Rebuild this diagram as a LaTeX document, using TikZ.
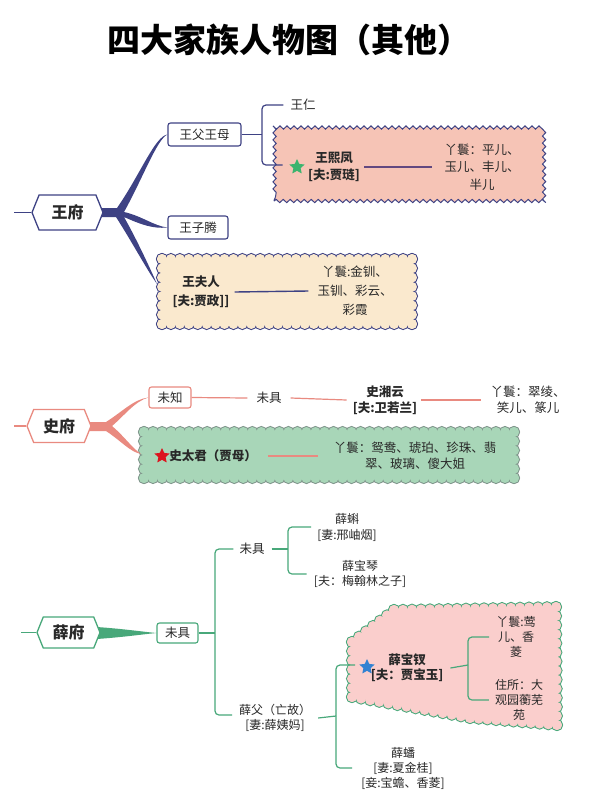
\documentclass[tikz,border=0pt]{standalone}
\usepackage{fontspec}
\setmainfont{Noto Sans CJK SC}
\usetikzlibrary{calc,shapes.geometric,shapes.symbols,decorations.pathmorphing}
\definecolor{wangc}{RGB}{62,66,132}
\definecolor{shic}{RGB}{233,138,128}
\definecolor{xuec}{RGB}{72,168,122}
\definecolor{xifengc}{RGB}{246,196,182}
\definecolor{furenc}{RGB}{250,233,206}
\definecolor{taijunc}{RGB}{168,214,184}
\definecolor{taijund}{RGB}{128,150,140}
\definecolor{baochaic}{RGB}{250,206,204}
\definecolor{maidc}{RGB}{98,72,128}
\definecolor{txtc}{RGB}{40,40,40}
\definecolor{stargreen}{RGB}{60,180,110}
\definecolor{starred}{RGB}{220,20,30}
\definecolor{starblue}{RGB}{50,130,210}
% scalloped border: a row of small circles along each edge A/B/n
\newcommand\scallops[2]{%
  \foreach \pa/\pb/\pn in {#1} {%
    \foreach \k in {0,...,\pn} {%
      \pgfmathsetmacro\myt{\k/\pn}
      \path[#2] ($(\pa)!\myt!(\pb)$) circle (5pt);}}}
\newcommand\cloudshape[4]{% edges, corner path, border colour, fill colour
  \scallops{#1}{draw=#3,line width=2pt,fill=#4}
  \fill[#4] #2;
  \scallops{#1}{fill=#4}}
\begin{document}
\begin{tikzpicture}[x=1pt,y=-1pt,font=\fontsize{12.5}{17.5}\selectfont,text=txtc,
  hexnode/.style={shape=signal,signal to=west and east,signal pointer angle=136,
    draw=#1,fill=white,line width=1.3pt,inner sep=0pt,font=\bfseries\fontsize{16}{18}\selectfont},
  namebox/.style={draw=#1,fill=white,rounded corners=2.5pt,line width=1.1pt,inner sep=0pt},
  plain/.style={align=center,inner sep=1pt},
  heavy/.style={plain,font=\bfseries\fontsize{12.5}{17}\selectfont},
  link/.style={draw=#1,line width=1.2pt,rounded corners=4pt},
  wavebox/.style={decorate,decoration={snake,segment length=7pt,amplitude=1.6pt},line width=1pt,inner sep=0pt},
  starsign/.style={star,star points=5,star point ratio=2.1,fill=#1,inner sep=0pt,minimum size=16pt}]
\useasboundingbox[fill=white] (0,0) rectangle (589,796);
\node[font=\bfseries\fontsize{33}{36}\selectfont,text=black] (title) at (289,40) {四大家族人物图（其他）};

% ---- 王府 ----
\node[namebox=wangc,minimum width=73pt,minimum height=23pt] (wfm) at (204.5,134.5) {王父王母};
\node[namebox=wangc,minimum width=60pt,minimum height=23pt] (wzt) at (198,227.5) {王子腾};
\node[wavebox,draw=wangc,fill=xifengc,minimum width=270pt,minimum height=72pt] (wxfbox) at (409,165) {};
\coordinate (fr1) at (162,259); \coordinate (fr2) at (412,259);
\coordinate (fr3) at (412,324); \coordinate (fr4) at (162,324);
\cloudshape{fr1/fr2/28,fr2/fr3/7,fr3/fr4/28,fr4/fr1/7}{(fr1) rectangle (fr3)}{wangc}{furenc}
\coordinate (wfrin) at (157,284);
\fill[wangc] (98,208) -- (117,208) .. controls (140,175) and (155,136) .. (wfm.west)
  .. controls (157,139) and (142,180) .. (124,212)
  .. controls (142,216) and (154,226) .. (wzt.west)
  .. controls (152,229) and (140,224) .. (124,217)
  .. controls (136,238) and (150,268) .. (wfrin)
  .. controls (147,270) and (132,242) .. (116,217) -- (98,217) -- cycle;
\node[hexnode=wangc,minimum width=71pt,minimum height=35pt] (wf) at (67.5,212.5) {王府};
\draw[link=wangc] (wf.west) -- ++(-17,0);
\node[plain] (wr) at (303,105) {王仁};
\coordinate (wfmj) at (262,134.5);
\draw[link=wangc] (wfm.east) -- (wfmj);
\draw[link=wangc] ([xshift=-6pt]wr.west) -| (wfmj) |- ([xshift=9pt]wxfbox.west);
\node[starsign=stargreen] (star1) at (297,167) {};
\node[heavy] (wxf) at (334,167) {王熙凤\\{}[夫:贾琏]};
\node[plain] (wxfy) at (482,167) {丫鬟：平儿、\\玉儿、丰儿、\\半儿};
\draw[draw=maidc,line width=1.4pt] ([xshift=3pt]wxf.east) -- ([xshift=-11pt]wxfy.west);
\node[heavy,font=\bfseries\fontsize{12.5}{19}\selectfont] (wfr) at (201,292) {王夫人\\{}[夫:贾政]]};
\node[plain,font=\fontsize{12.5}{19}\selectfont] (wfry) at (355,291) {丫鬟:金钏、\\玉钏、彩云、\\彩霞};
\draw[draw=wangc,line width=1.4pt] ([xshift=4pt]wfr.east) -- ([xshift=-8pt]wfry.west);

% ---- 史府 ----
\node[namebox=shic,minimum width=42pt,minimum height=21pt] (swz) at (170,397.5) {未知};
\coordinate (tj1) at (144,432); \coordinate (tj2) at (514,432);
\coordinate (tj3) at (514,478); \coordinate (tj4) at (144,478);
\cloudshape{tj1/tj2/41,tj2/tj3/5,tj3/tj4/41,tj4/tj1/5}{(tj1) rectangle (tj3)}{taijund}{taijunc}
\coordinate (stjin) at (141,454);
\fill[shic] (88,422) -- (106,422) .. controls (122,412) and (134,399) .. (swz.west)
  .. controls (135,401) and (124,416) .. (112,426)
  .. controls (124,436) and (132,448) .. (stjin)
  .. controls (130,452) and (120,440) .. (106,431) -- (88,431) -- cycle;
\node[hexnode=shic,minimum width=64pt,minimum height=33pt] (sf) at (59,426) {史府};
\draw[link=shic] (sf.west) -- ++(-12,0);
\node[plain] (swj) at (269,398) {未具};
\node[heavy,font=\bfseries\fontsize{12.5}{16}\selectfont] (sxy) at (385,400) {史湘云\\{}[夫:卫若兰]};
\node[plain,font=\fontsize{12.5}{16}\selectfont] (sxyy) at (528,400) {丫鬟：翠绫、\\笑儿、篆儿};
\draw[link=shic] (swz.east) -- ([xshift=-8pt]swj.west);
\draw[link=shic] ([xshift=8pt]swj.east) -- ([xshift=-5pt]sxy.west);
\draw[link=shic] ([xshift=3pt]sxy.east) -- ([xshift=-8pt]sxyy.west);
\node[starsign=starred] (star2) at (162,456) {};
\node[heavy] (stj) at (213,456) {史太君（贾母）};
\node[plain,font=\fontsize{12.5}{16}\selectfont] (stjy) at (415,456) {丫鬟：鸳鸯、琥珀、珍珠、翡\\翠、玻璃、傻大姐};
\draw[link=shic] ([xshift=10pt]stj.east) -- ([xshift=-15pt]stjy.west);

% ---- 薛府 ----
\node[namebox=xuec,minimum width=41pt,minimum height=20pt] (xwj) at (177.5,633) {未具};
\fill[xuec] (97,627) .. controls (125,629) and (145,632) .. (xwj.west)
  .. controls (145,634) and (125,637) .. (97,639) -- cycle;
\node[hexnode=xuec,minimum width=63pt,minimum height=31pt] (xf) at (68.5,632.5) {薛府};
\draw[link=xuec] (xf.west) -- ++(-15,0);
\coordinate (xj) at (215,633);
\coordinate (xj2) at (288,549);
\coordinate (xj3) at (336,716);
\coordinate (xj4) at (468,665);
\node[plain] (xwt) at (252,549) {未具};
\node[plain,font=\fontsize{12}{16}\selectfont] (xk) at (347,527) {薛蝌\\{}[妻:邢岫烟]};
\node[plain,font=\fontsize{12}{15}\selectfont] (xbq) at (360,574) {薛宝琴\\{}[夫：梅翰林之子]};
\node[plain,font=\fontsize{12}{15}\selectfont] (xfq) at (275,718) {薛父（亡故）\\{}[妻:薛姨妈]};
\coordinate (xfqin) at (232,715);
\draw[link=xuec] (xwj.east) -- (xj);
\draw[link=xuec] ([xshift=-5pt]xwt.west) -| (xj) |- (xfqin);
\draw[link=xuec] ([xshift=6pt]xwt.east) -- (xj2);
\draw[link=xuec] ([xshift=-5pt]xk.west) -| (xj2) |- ([xshift=-6pt]xbq.west);
\coordinate (bc1) at (352,642); \coordinate (bc2) at (394,610); \coordinate (bc3) at (556,607);
\coordinate (bc4) at (557,725); \coordinate (bc5) at (470,718); \coordinate (bc6) at (352,697);
\cloudshape{bc1/bc2/6,bc2/bc3/18,bc3/bc4/13,bc4/bc5/10,bc5/bc6/13,bc6/bc1/6}
  {(bc1) -- (bc2) -- (bc3) -- (bc4) -- (bc5) -- (bc6) -- cycle}{xuec}{baochaic}
\coordinate (xbcin) at (355,665);
\node[plain,font=\fontsize{12}{15}\selectfont] (xp) at (403,768) {薛蟠\\{}[妻:夏金桂]\\{}[妾:宝蟾、香菱]};
\draw[link=xuec] ([xshift=6pt]xfq.east) -- (xj3);
\draw[link=xuec] (xbcin) -| (xj3) |- ([xshift=-8pt]xp.west);
\node[starsign=starblue] (star3) at (367,667) {};
\node[heavy,font=\bfseries\fontsize{12.5}{15}\selectfont] (xbc) at (407,668) {薛宝钗\\{}[夫：贾宝玉]};
\node[plain,font=\fontsize{12}{15}\selectfont] (xbcy) at (516,637) {丫鬟:莺\\儿、香\\菱};
\node[plain,font=\fontsize{12}{15}\selectfont] (xbcz) at (519,700) {住所：大\\观园蘅芜\\苑};
\draw[link=xuec] ([xshift=6pt]xbc.east) -- (xj4);
\draw[link=xuec] ([xshift=-6pt]xbcy.west) -| (xj4) |- ([xshift=-5pt]xbcz.west);
\end{tikzpicture}
\end{document}
